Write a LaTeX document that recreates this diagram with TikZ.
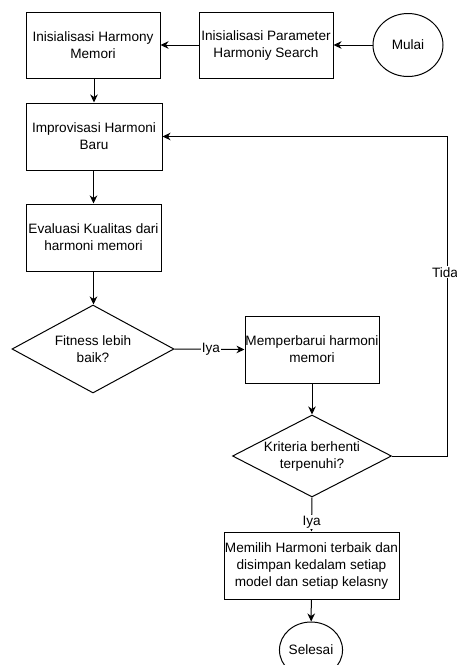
\documentclass[tikz,border=0pt]{standalone}
\usepackage{fontspec}
\setmainfont{Liberation Sans}
\usetikzlibrary{shapes.geometric,arrows.meta}
\begin{document}
\begin{tikzpicture}[x=1pt,y=-1pt,
  every node/.style={font=\fontsize{13.6}{17}\selectfont, align=center, inner sep=0pt},
  box/.style={draw, line width=1pt, minimum width=134pt, minimum height=66pt},
  decision/.style={draw, line width=1pt, diamond, shape aspect=1.9},
  term/.style={draw, line width=1pt, ellipse},
  arr/.style={line width=1pt, -{Stealth[length=8pt,width=7.5pt,inset=2.5pt]}},
  lbl/.style={fill=white, inner sep=1pt}]
\path[use as bounding box, clip] (0,0) rectangle (457,665);
\fill[white] (0,0) rectangle (457,665);

\node[box] (b1) at (93,45) {Inisialisasi Harmony\\Memori};
\node[box] (b2) at (266,45) {Inisialisasi Parameter\\Harmoniy Search};
\node[term, minimum width=70pt, minimum height=63pt] (start) at (408,45) {Mulai};
\node[box, minimum width=136pt, minimum height=67pt] (b3) at (94,136.5) {Improvisasi Harmoni\\Baru};
\node[box, minimum width=135pt, minimum height=67pt] (b4) at (93.5,237.5) {Evaluasi Kualitas dari\\harmoni memori};
\node[decision, minimum width=162pt, minimum height=88pt] (d1) at (93,349) {Fitness lebih\\baik?};
\node[box, minimum height=67pt] (b5) at (312,349.5) {Memperbarui harmoni\\memori};
\node[decision, minimum width=159pt, minimum height=82pt] (d2) at (312,456) {Kriteria berhenti\\terpenuhi?};
\node[box, minimum width=175pt, minimum height=67pt] (b6) at (311.5,565.5) {Memilih Harmoni terbaik dan\\disimpan kedalam setiap\\model dan setiap kelasny};
\node[term, minimum width=52pt, minimum height=56pt] (end) at (311,650) {Selesai};

\coordinate (c1) at (447,456);
\coordinate (c2) at (447,136.5);

\draw[arr] (start) -- (b2);
\draw[arr] (b2) -- (b1);
\draw[arr] (b1.south -| b3.north) -- (b3.north);
\draw[arr] (b3.south -| b4.north) -- (b4.north);
\draw[arr] (b4) -- (d1.north -| b4.south);
\draw[arr] (d1.east) -- node[lbl, pos=0.52] {Iya} (b5.west);
\draw[arr] (b5) -- (d2);
\draw[arr] (d2.east) -- (c1) -- node[lbl, pos=0.575, xshift=-2pt] {Tida} (c2) -- (b3.east);
\draw[arr] (d2.south) -- node[lbl, pos=0.72] {Iya} (b6.north);
\draw[arr] (b6) -- (end);
\end{tikzpicture}
\end{document}
